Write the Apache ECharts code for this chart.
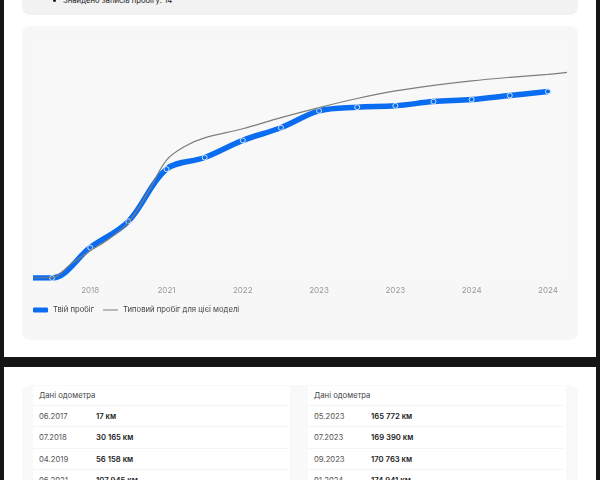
<!DOCTYPE html>
<html>
<head>
<meta charset="utf-8" />
<title>Пробіг</title>
<style>
  html, body { margin: 0; padding: 0; width: 600px; height: 480px; overflow: hidden; background: #fff; font-family: Inter, "Noto Sans", sans-serif; }
  .black { position: absolute; background: #151515; }
  .panel { position: absolute; border-radius: 8px; }
  .top-text { position: absolute; left: 63px; top: -5px; font-size: 7.7px; line-height: 12px; color: #222; white-space: nowrap; }
  .top-text::before { content: ""; position: absolute; left: -10px; top: 4px; width: 3px; height: 3px; border-radius: 50%; background: #222; }
  #main { position: absolute; left: 22px; top: 26px; width: 556px; height: 314px; }
  .odo { position: absolute; top: 386px; height: 94px; background: #fff; overflow: hidden; font-size: 7.7px; }
  .odo .row { position: absolute; left: 0; right: 2px; height: 21px; line-height: 21px; border-top: 1px solid #f4f4f4; }
  .odo .head { color: #444; border: 0; top: -1px; }
  .odo span { position: absolute; white-space: nowrap; }
  .odo .date { color: #555; }
  .odo .val { color: #1c1c1c; font-weight: 600; }
</style>
<script src="https://cdn.jsdelivr.net/npm/echarts@6/dist/echarts.min.js"></script>
</head>
<body>
<div class="panel" style="left:22px;top:-20px;width:556px;height:35px;background:#f2f2f2"></div>
<div class="top-text">Знайдено записів пробігу: 14</div>
<div class="panel" style="left:22px;top:26px;width:556px;height:314px;background:#f7f7f7"></div>
<div id="main"></div>
<div class="panel" style="left:22px;top:385px;width:556px;height:110px;background:#f9f9f9"></div>
<div class="odo" id="odoLeft" style="left:33px;width:257px"></div>
<div class="odo" id="odoRight" style="left:308px;width:258px"></div>
<div class="black" style="left:0;top:0;width:4px;height:480px"></div>
<div class="black" style="left:596px;top:0;width:4px;height:480px"></div>
<div class="black" style="left:0;top:357px;width:600px;height:10px"></div>
<script type="text/javascript">
// x is a half-step index: 0 = left edge of plot, records sit on the odd numbers
var yourX = [0, 1, 3, 5, 7, 9, 11, 13, 15, 17, 19, 21, 23, 25, 27];
var yourKm = [17, 17, 30165, 56158, 107945, 119500, 136500, 149000, 165772, 169390, 170763, 174941, 177000, 181000, 185000];
var typicalX = [0, 1, 2, 3, 4, 5, 6, 7, 8, 9, 11, 13, 15, 17, 19, 21, 23, 25, 27, 28];
var typicalKm = [17, 300, 14000, 27000, 39000, 55000, 84000, 117000, 131000, 139000, 148000, 159000, 169000, 178000, 185500, 191000, 195500, 199000, 202000, 204000];
var tickLabels = { 3: '2018', 7: '2021', 11: '2022', 15: '2023', 19: '2023', 23: '2024', 27: '2024' };
var odoLeft = [['06.2017', '17 км'], ['07.2018', '30 165 км'], ['04.2019', '56 158 км'], ['06.2021', '107 945 км']];
var odoRight = [['05.2023', '165 772 км'], ['07.2023', '169 390 км'], ['09.2023', '170 763 км'], ['01.2024', '174 941 км']];

function fillTable(id, rows) {
  var html = '<div class="row head"><span style="left:6px">Дані одометра</span></div>';
  rows.forEach(function (r, i) {
    html += '<div class="row" style="top:' + (19 + i * 21.3) + 'px">' +
      '<span class="date" style="left:6px">' + r[0] + '</span><span class="val" style="left:63px">' + r[1] + '</span></div>';
  });
  document.getElementById(id).innerHTML = html;
}
fillTable('odoLeft', odoLeft);
fillTable('odoRight', odoRight);

function pairs(xs, ys) {
  return xs.map(function (x, i) { return [x, ys[i]]; });
}

var yourData = pairs(yourX, yourKm);
yourData[0] = { value: yourData[0], symbol: 'none' }; // tail to the plot edge has no marker

var myChart = echarts.init(document.getElementById('main'));
var option = {
  animation: false,
  textStyle: { fontFamily: 'Inter' },
  grid: { left: 11, right: 11, top: 12, height: 240, backgroundColor: '#f8f8f8', borderWidth: 0, show: true },
  legend: [
    { data: ['Твій пробіг'], left: 11, top: 280, padding: 0, icon: 'roundRect', itemWidth: 15, itemHeight: 5,
      itemGap: 6, itemStyle: { borderWidth: 0 }, textStyle: { fontSize: 7.7, color: '#444', fontFamily: 'Inter' } },
    { data: ['Типовий пробіг для цієї моделі'], left: 81, top: 280, padding: 0, icon: 'rect', itemWidth: 15, itemHeight: 1,
      itemStyle: { borderWidth: 0 }, textStyle: { fontSize: 7.7, color: '#444', fontFamily: 'Inter' } }
  ],
  xAxis: {
    type: 'value', min: 0, max: 28, interval: 1,
    axisLine: { show: false }, axisTick: { show: false }, splitLine: { show: false },
    axisLabel: {
      color: '#999', fontSize: 8, margin: 9,
      formatter: function (v) { return tickLabels[v] || ''; }
    }
  },
  yAxis: {
    type: 'value', min: 0, max: 238000, interval: 50000,
    axisLine: { show: false }, axisTick: { show: false }, axisLabel: { show: false },
    splitLine: { lineStyle: { color: '#f6f6f6', width: 1 } }
  },
  series: [
    {
      name: 'Твій пробіг', type: 'line', smooth: 0.35, z: 2,
      data: yourData,
      lineStyle: { color: '#0a6cf0', width: 5.5 },
      itemStyle: { color: '#0a6cf0', borderColor: '#cfe3fb', borderWidth: 1 },
      symbol: 'circle', symbolSize: 5, showSymbol: true
    },
    {
      name: 'Типовий пробіг для цієї моделі', type: 'line', smooth: 0.35, z: 3,
      data: pairs(typicalX, typicalKm),
      lineStyle: { color: '#7d7d7d', width: 1.2 },
      itemStyle: { color: '#7d7d7d' },
      symbol: 'none'
    }
  ]
};
myChart.setOption(option);
</script>
</body>
</html>
